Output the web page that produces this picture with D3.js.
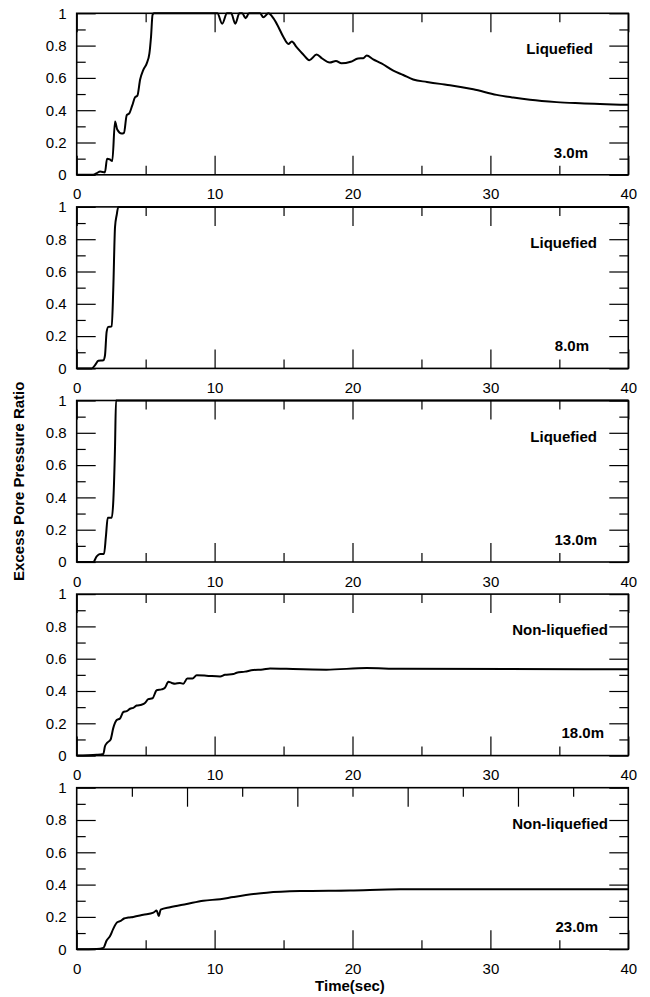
<!DOCTYPE html>
<html>
<head>
<meta charset="utf-8">
<script src="https://cdn.jsdelivr.net/npm/d3@7"></script>
<style>
  body { margin: 0; background: #fff; }
  svg { font-family: "Liberation Sans", Arial, sans-serif; }
  .tick text { font-size: 15px; fill: #000; }
  .tick line { stroke: #000; stroke-width: 1.2; }
  .note { font-size: 15px; font-weight: bold; fill: #000; }
</style>
</head>
<body>
<div id="chart"></div>
<script>
// time (sec) vs excess pore pressure ratio
var r3m = [[0,0],[1.2,0],[1.45,0.01],[1.7,0.02],[2.05,0.015],[2.2,0.1],[2.4,0.095],[2.58,0.085],
  [2.78,0.33],[2.94,0.28],[3.26,0.255],[3.43,0.26],[3.63,0.37],[3.81,0.38],[4.03,0.43],[4.23,0.48],
  [4.4,0.49],[4.6,0.59],[4.83,0.65],[5.08,0.69],[5.27,0.75],[5.39,0.855],[5.5,0.99],[5.6,1],
  [10.2,1],[10.55,0.935],[10.9,1],[11.2,1],[11.5,0.935],[11.8,1],[12.0,1],[12.25,0.97],[12.5,1],
  [13.3,1],[13.53,0.975],[13.9,1],[14.26,0.97],[14.6,0.92],[14.98,0.855],[15.35,0.81],[15.6,0.825],
  [15.95,0.79],[16.43,0.745],[16.87,0.71],[17.4,0.745],[17.8,0.72],[18.35,0.695],[18.8,0.705],
  [19.2,0.69],[19.87,0.70],[20.4,0.72],[20.78,0.722],[21.03,0.738],[21.5,0.715],[22.1,0.69],
  [22.96,0.645],[23.68,0.618],[24.4,0.59],[25.4,0.575],[26.35,0.563],[27.07,0.555],[28.76,0.53],
  [30.45,0.495],[31.66,0.478],[32.87,0.464],[34.8,0.45],[36.5,0.443],[40,0.433]];

var r8m = [[0,0],[1.09,0],[1.33,0.02],[1.57,0.047],[1.93,0.05],[2.05,0.08],[2.17,0.226],[2.29,0.257],
  [2.54,0.26],[2.65,0.485],[2.78,0.876],[2.9,0.95],[3.02,1],[40,1]];

var r13m = [[0,0],[1.2,0],[1.45,0.035],[1.69,0.05],[1.98,0.05],[2.12,0.16],[2.25,0.274],[2.54,0.274],
  [2.66,0.387],[2.78,0.717],[2.85,1],[40,1]];

var r18m = [[0,0],[1.45,0.005],[1.93,0.01],[2.05,0.058],[2.22,0.08],[2.46,0.1],[2.65,0.17],[2.9,0.22],
  [3.14,0.23],[3.38,0.27],[3.63,0.275],[3.87,0.29],[4.1,0.295],[4.35,0.31],[4.7,0.315],[4.95,0.325],
  [5.19,0.35],[5.5,0.355],[5.8,0.405],[6.16,0.41],[6.4,0.42],[6.65,0.457],[6.89,0.45],[7.13,0.445],
  [7.49,0.45],[7.73,0.445],[8.02,0.477],[8.4,0.477],[8.7,0.497],[9.4,0.495],[10.4,0.49],[10.75,0.5],
  [11.36,0.505],[11.6,0.513],[12.2,0.52],[12.8,0.53],[13.5,0.533],[14.02,0.54],[15.2,0.537],
  [18.1,0.532],[21.03,0.542],[23.45,0.537],[40,0.535]];

var r23m = [[0,0],[1.45,0.002],[1.93,0.008],[2.17,0.054],[2.41,0.08],[2.65,0.126],[2.94,0.167],
  [3.19,0.175],[3.43,0.19],[3.74,0.196],[4.1,0.2],[4.83,0.213],[5.56,0.226],[5.8,0.24],[5.95,0.205],
  [6.09,0.245],[6.77,0.26],[7.98,0.28],[9.18,0.30],[10.4,0.31],[11.36,0.323],[13.78,0.35],
  [16.19,0.36],[19.82,0.364],[23.45,0.371],[40,0.371]];

var series = [r3m, r8m, r13m, r18m, r23m];
var depths = ["3.0m", "8.0m", "13.0m", "18.0m", "23.0m"];
var states = ["Liquefied", "Liquefied", "Liquefied", "Non-liquefied", "Non-liquefied"];

// tick values
var xMajor = [0, 10, 20, 30, 40];
var xMinor = [5, 15, 25, 35];
var yMajor = [0, 0.2, 0.4, 0.6, 0.8, 1];
var yMinor = [0.1, 0.3, 0.5, 0.7, 0.9];
// the top edge of the last panel is ticked on a 0-50 scale
var topAltMajor = [10, 20, 30, 40];
var topAltMinor = [5, 15, 25, 35, 45];

// layout
var width = 650, height = 997;
var left = 76.7, right = 628.3;
var panelTop = 13.3, panelH = 161.5, panelStep = 193.6;
var majorLen = 19, minorLen = 9;
var stateX = [593, 597, 597, 608, 608];
var depthX = [588, 589, 597, 604, 598];

var svg = d3.select("#chart").append("svg")
  .attr("width", width)
  .attr("height", height);

var x = d3.scaleLinear().domain([0, 40]).range([left, right]);
var xAlt = d3.scaleLinear().domain([0, 50]).range([left, right]);

function addAxis(g, axis, ty, tx) {
  var a = g.append("g")
    .attr("transform", "translate(" + (tx || 0) + "," + (ty || 0) + ")")
    .call(axis);
  a.select(".domain").remove();
  a.selectAll("text").attr("fill", "#000");
  return a;
}

series.forEach(function(data, i) {
  var top = panelTop + i * panelStep;
  var bottom = top + panelH;
  var y = d3.scaleLinear().domain([0, 1]).range([bottom, top]);
  var g = svg.append("g");

  // bottom axis (labels + ticks pointing up)
  addAxis(g, d3.axisBottom(x).tickValues(xMajor).tickSize(-majorLen).tickPadding(14)
    .tickFormat(d3.format("d")), bottom);
  addAxis(g, d3.axisBottom(x).tickValues(xMinor).tickSize(-minorLen).tickFormat(""), bottom);

  // top axis (ticks pointing down)
  var topMaj = i === 4 ? topAltMajor : xMajor;
  var topMin = i === 4 ? topAltMinor : xMinor;
  var topScale = i === 4 ? xAlt : x;
  addAxis(g, d3.axisTop(topScale).tickValues(topMaj).tickSize(-majorLen).tickFormat(""), top);
  addAxis(g, d3.axisTop(topScale).tickValues(topMin).tickSize(-minorLen).tickFormat(""), top);

  // left axis (labels + ticks pointing right)
  addAxis(g, d3.axisLeft(y).tickValues(yMajor).tickSize(-majorLen).tickPadding(10)
    .tickFormat(d3.format("~g")), 0, left);
  addAxis(g, d3.axisLeft(y).tickValues(yMinor).tickSize(-minorLen).tickFormat(""), 0, left);

  // right axis (ticks pointing left)
  addAxis(g, d3.axisRight(y).tickValues(yMajor).tickSize(-majorLen).tickFormat(""), 0, right);
  addAxis(g, d3.axisRight(y).tickValues(yMinor).tickSize(-minorLen).tickFormat(""), 0, right);

  // frame
  g.append("rect")
    .attr("x", left)
    .attr("y", top)
    .attr("width", right - left)
    .attr("height", bottom - top)
    .attr("fill", "none")
    .attr("stroke", "#000")
    .attr("stroke-width", 1.6);

  // pore pressure curve
  var line = d3.line()
    .x(function(d) { return x(d[0]); })
    .y(function(d) { return y(d[1]); })
    .curve(d3.curveMonotoneX);

  g.append("path")
    .datum(data)
    .attr("d", line)
    .attr("fill", "none")
    .attr("stroke", "#000")
    .attr("stroke-width", 2)
    .attr("stroke-linejoin", "round");

  // state and depth notes
  g.append("text")
    .attr("class", "note")
    .attr("x", stateX[i])
    .attr("y", y(0.78) + 5.5)
    .attr("text-anchor", "end")
    .text(states[i]);

  g.append("text")
    .attr("class", "note")
    .attr("x", depthX[i])
    .attr("y", y(0.14) + 5.5)
    .attr("text-anchor", "end")
    .text(depths[i]);
});

// axis titles
svg.append("text")
  .attr("class", "note")
  .attr("text-anchor", "middle")
  .attr("transform", "translate(23.5," + (panelTop + 2 * panelStep + panelH / 2) + ")rotate(-90)")
  .text("Excess Pore Pressure Ratio");

svg.append("text")
  .attr("class", "note")
  .attr("text-anchor", "middle")
  .attr("x", 350)
  .attr("y", 991)
  .text("Time(sec)");
</script>
</body>
</html>
